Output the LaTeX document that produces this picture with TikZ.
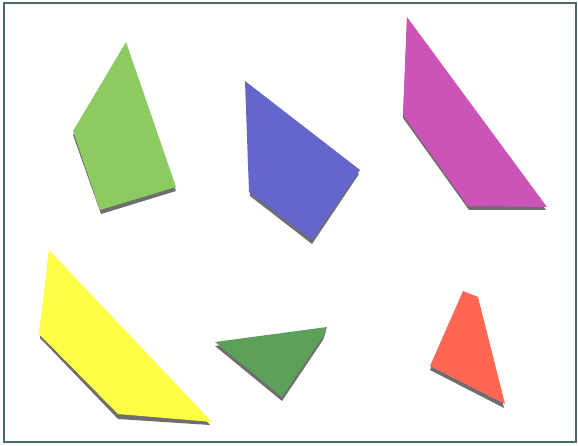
\documentclass[tikz,border=0pt]{standalone}
\definecolor{lgreen}{RGB}{140,202,98}
\definecolor{pblue}{RGB}{100,102,204}
\definecolor{pmag}{RGB}{204,84,184}
\definecolor{pyel}{RGB}{255,255,70}
\definecolor{dgreen}{RGB}{92,160,90}
\definecolor{pred}{RGB}{255,102,84}
\definecolor{shade}{RGB}{110,110,110}
\definecolor{frame}{RGB}{74,106,96}
\tikzset{
  piece/.style={line width=0pt},
  shadowpiece/.style={fill=shade, draw=none},
  framebox/.style={draw=frame, line width=2pt}
}
\begin{document}
\begin{tikzpicture}[x=1pt,y=-1pt]
\useasboundingbox (0,0) rectangle (578,446);
\fill[white] (0,0) rectangle (578,446);
\draw[framebox] (4,3.5) rectangle (576,441.5);
% light green
\fill[shadowpiece] (126,45) -- (73,135) -- (101,214) -- (176,191) -- cycle;
\fill[lgreen] (126,42) -- (73,131) -- (100,210) -- (176,187) -- cycle;
% blue
\fill[shadowpiece] (246,84) -- (250,196) -- (312,244) -- (359,174) -- cycle;
\fill[pblue] (245,81) -- (249,192) -- (312,240) -- (360,170) -- cycle;
% magenta
\fill[shadowpiece] (407,20) -- (403,118) -- (469,210) -- (546,210) -- cycle;
\fill[pmag] (407,17) -- (403,115) -- (468,206) -- (547,207) -- cycle;
% yellow
\fill[shadowpiece] (49,253) -- (40,338) -- (118,419) -- (210,425) -- cycle;
\fill[pyel] (49,250) -- (39,334) -- (118,414) -- (212,422) -- cycle;
% dark green
\fill[shadowpiece] (215,346) -- (282,401) -- (323,340) -- (326,331) -- cycle;
\fill[dgreen] (215,342) -- (282,397) -- (324,335) -- (327,327) -- cycle;
% red
\fill[shadowpiece] (463,294) -- (430,370) -- (504,408) -- (478,300) -- cycle;
\fill[pred] (463,291) -- (430,366) -- (505,404) -- (478,297) -- cycle;
\end{tikzpicture}
\end{document}
